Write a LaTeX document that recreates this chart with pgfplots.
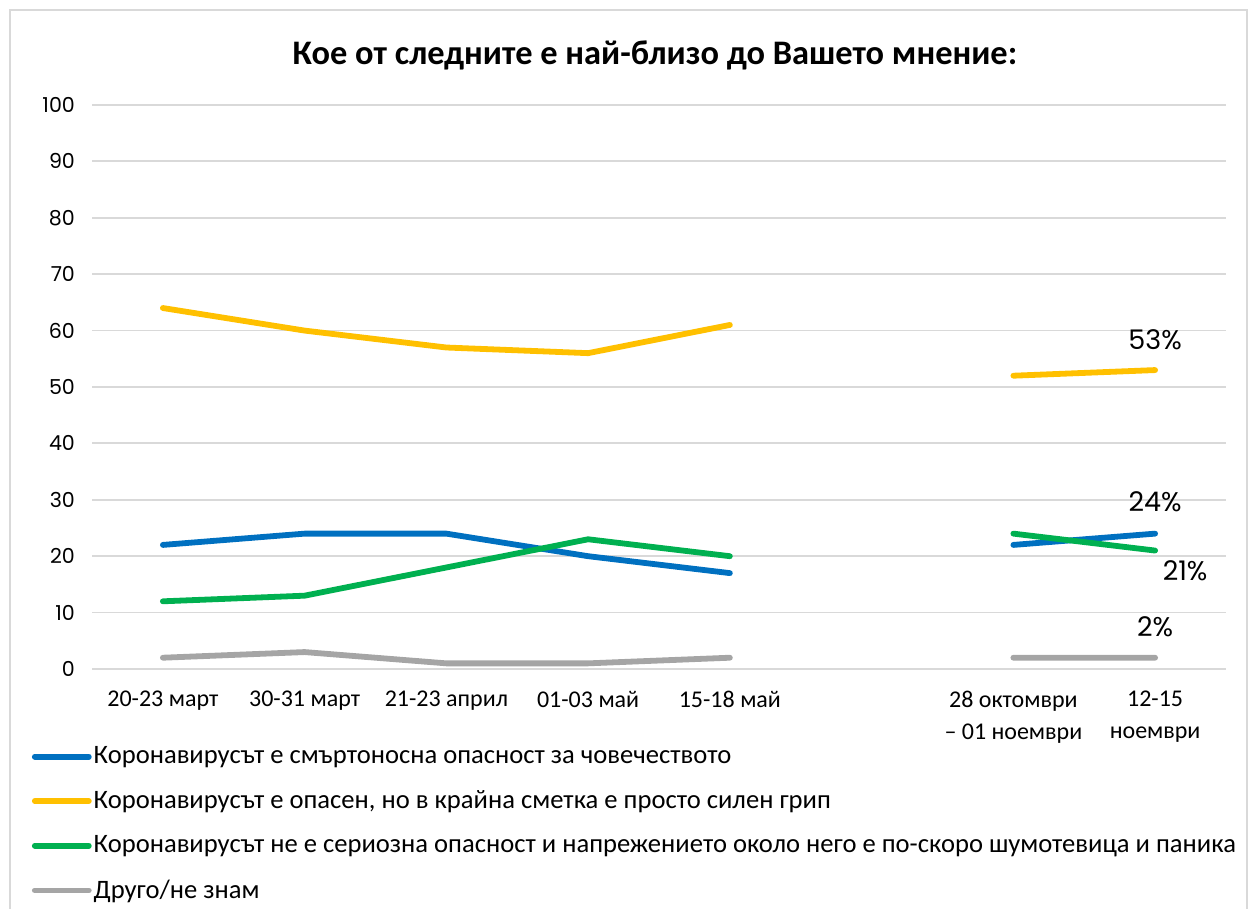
\documentclass[border=0pt]{standalone}
\usepackage{pgfplots}
\pgfplotsset{compat=1.18}
\usepackage{fontspec}
\setmainfont{Carlito}
\newfontfamily\numfont{Poppins}
\definecolor{cblue}{HTML}{0070C0}
\definecolor{cyellow}{HTML}{FFC000}
\definecolor{cgreen}{HTML}{00B050}
\definecolor{cgray}{HTML}{A5A5A5}
\definecolor{gridc}{HTML}{D9D9D9}
\begin{document}
\begin{tikzpicture}
\path[use as bounding box] (0,0) rectangle (626pt,454.5pt);
\draw[gridc, line width=1pt] (5pt,-2pt) -- (5pt,449.5pt) -- (623.5pt,449.5pt) -- (623.5pt,-2pt);
\node[font=\bfseries\fontsize{17.2}{20}\selectfont] at (327.5pt,427pt) {Кое от следните е най-близо до Вашето мнение:};
\begin{axis}[
  at={(46pt,120pt)}, anchor=south west,
  scale only axis, width=567pt, height=282pt,
  xmin=-0.5, xmax=7.5, ymin=0, ymax=100,
  ytick={0,10,...,100},
  xtick={0,1,2,3,4,6,7},
  xticklabels={20-23 март,30-31 март,21-23 април,01-03 май,15-18 май,{28 октомври\\– 01 ноември},{12-15\\ноември}},
  xticklabel style={align=center, font=\fontsize{12}{16}\selectfont, anchor=north, yshift=-7.5pt},
  yticklabel style={font=\numfont\fontsize{10.3}{12}\selectfont, xshift=-5pt},
  /pgf/number format/assume math mode=true,
  axis line style={draw=none},
  major tick length=0pt,
  ymajorgrids, grid style={gridc, line width=0.9pt},
  unbounded coords=jump,
  every axis plot/.append style={line width=2.9pt, line cap=round, line join=round},
  legend style={at={(rel axis cs:-0.053,-0.134)}, anchor=north west, draw=none, fill=none,
    font=\fontsize{13.3}{15}\selectfont, row sep=10pt, inner sep=0pt, outer sep=0pt,
    nodes={inner sep=1pt}},
  legend cell align=left,
  legend image code/.code={\draw[line width=2.9pt, line cap=round] (0pt,0pt) -- (27pt,0pt);},
  clip=false,
]
\addplot[cblue] coordinates {(0,22) (1,24) (2,24) (3,20) (4,17) (5,nan) (6,22) (7,24)};
\addlegendentry{Коронавирусът е смъртоносна опасност за човечеството}
\addplot[cyellow] coordinates {(0,64) (1,60) (2,57) (3,56) (4,61) (5,nan) (6,52) (7,53)};
\addlegendentry{Коронавирусът е опасен, но в крайна сметка е просто силен грип}
\addplot[cgreen] coordinates {(0,12) (1,13) (2,18) (3,23) (4,20) (5,nan) (6,24) (7,21)};
\addlegendentry{Коронавирусът не е сериозна опасност и напрежението около него е по-скоро шумотевица и паника}
\addplot[cgray] coordinates {(0,2) (1,3) (2,1) (3,1) (4,2) (5,nan) (6,2) (7,2)};
\addlegendentry{Друго/не знам}
\node[font=\numfont\fontsize{13.5}{15}\selectfont] at (axis cs:7,53) [yshift=15pt] {53\%};
\node[font=\numfont\fontsize{13.5}{15}\selectfont] at (axis cs:7,24) [yshift=16pt] {24\%};
\node[font=\numfont\fontsize{13.5}{15}\selectfont] at (axis cs:7,21) [yshift=-10pt, xshift=15pt] {21\%};
\node[font=\numfont\fontsize{13.5}{15}\selectfont] at (axis cs:7,2) [yshift=15.5pt] {2\%};
\end{axis}
\end{tikzpicture}
\end{document}
